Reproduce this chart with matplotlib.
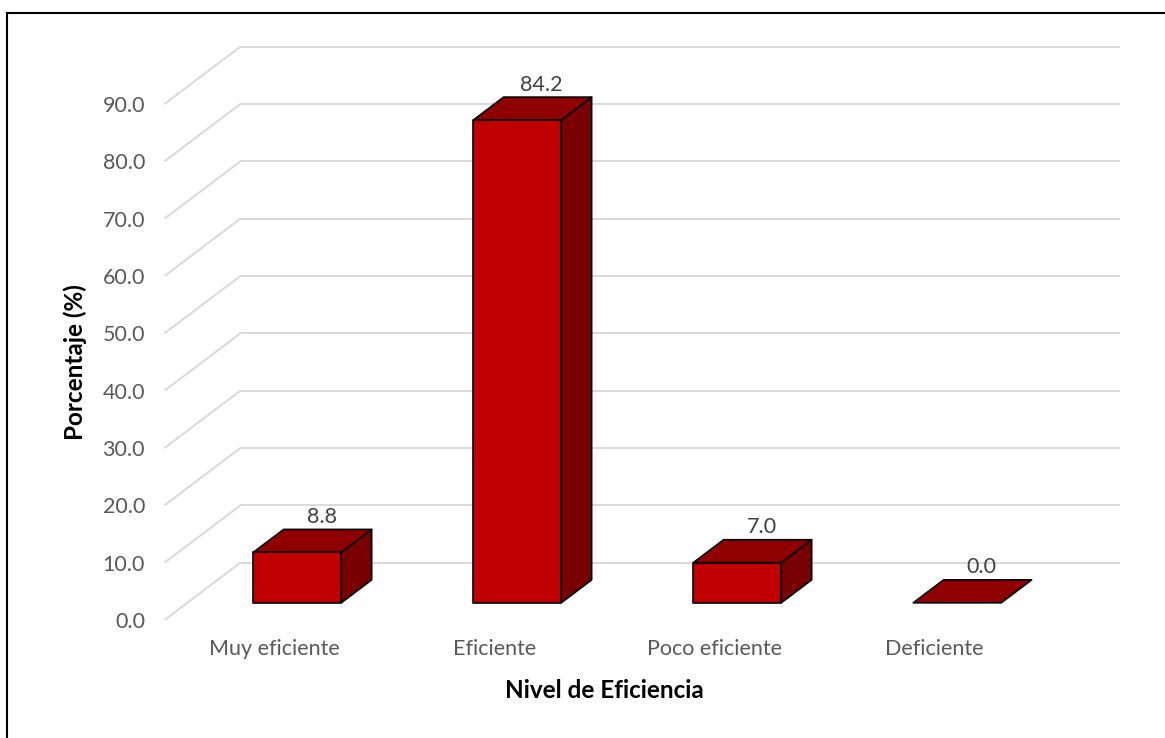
import matplotlib
matplotlib.use("Agg")
import matplotlib.pyplot as plt
from matplotlib.patches import Polygon, Rectangle

plt.rcParams['font.family'] = ['Lato', 'DejaVu Sans']

# Data
categories = ["Muy eficiente", "Eficiente", "Poco eficiente", "Deficiente"]
values = [8.8, 84.2, 7.0, 0.0]
y_ticks = [0, 10, 20, 30, 40, 50, 60, 70, 80, 90]
y_tick_labels = [f"{t:.1f}" for t in y_ticks]
x_title = "Nivel de Eficiencia"
y_title = "Porcentaje (%)"

# Styling
FRONT = "#C00000"
TOP = "#8F0000"
SIDE = "#780000"
GRID = "#D9D9D9"
TEXT = "#595959"
LABEL_FS = 15.5
TITLE_FS = 17.5

W, H = 1165, 738
fig = plt.figure(figsize=(W / 100, H / 100), dpi=100)

# axes = front floor plane of the 3D box
ax_left, ax_right = 164.5, 1044.5
ax_bottom, ax_top = 620, 104
ax = fig.add_axes([ax_left / W, 1 - ax_bottom / H,
                   (ax_right - ax_left) / W, (ax_bottom - ax_top) / H])
n = len(categories)
ax.set_xlim(-0.5, n - 0.5)
ax.set_ylim(0, 90)
for s in ax.spines.values():
    s.set_visible(False)

# oblique depth offset (data units)
ddx, ddy = 0.345, 10.0
bar_w = 0.4
z_front, z_back = 0.3, 0.7

# back wall gridlines + floor-side diagonals
for t in y_ticks:
    ax.plot([-0.5 + ddx, n - 0.5 + ddx], [t + ddy, t + ddy], color=GRID,
            lw=1.4, clip_on=False, zorder=1, solid_capstyle='butt')
    ax.plot([-0.5, -0.5 + ddx], [t, t + ddy], color=GRID,
            lw=1.4, clip_on=False, zorder=1, solid_capstyle='butt')

# 3D bars
ec = dict(edgecolor="black", linewidth=1.2, joinstyle='round', clip_on=False, zorder=3)
for i, v in enumerate(values):
    x0 = i - bar_w / 2
    x1 = i + bar_w / 2
    fx, fy = z_front * ddx, z_front * ddy
    bx, by = z_back * ddx, z_back * ddy
    # side face
    if v > 0:
        ax.add_patch(Polygon([(x1 + fx, fy), (x1 + bx, by), (x1 + bx, v + by),
                              (x1 + fx, v + fy)], closed=True, facecolor=SIDE, **ec))
    # top face
    ax.add_patch(Polygon([(x0 + fx, v + fy), (x1 + fx, v + fy), (x1 + bx, v + by),
                          (x0 + bx, v + by)], closed=True, facecolor=TOP, **ec))
    # front face
    if v > 0:
        ax.add_patch(Polygon([(x0 + fx, fy), (x1 + fx, fy), (x1 + fx, v + fy),
                              (x0 + fx, v + fy)], closed=True, facecolor=FRONT, **ec))
    # value label
    ax.annotate(f"{v:.1f}", xy=(i + 0.62 * ddx, v + by), xytext=(0, 9),
                textcoords="offset points", ha="center", va="center",
                fontsize=LABEL_FS, color="#404040", annotation_clip=False, zorder=4)

# ticks
ax.set_yticks(y_ticks)
ax.set_yticklabels(y_tick_labels)
ax.set_xticks(range(n))
ax.set_xticklabels(categories)
ax.tick_params(axis='y', length=0, pad=14, labelsize=LABEL_FS, labelcolor=TEXT)
ax.tick_params(axis='x', length=0, pad=14, labelsize=LABEL_FS, labelcolor=TEXT)

# axis titles
fig.text(604 / W, 1 - 690 / H, x_title, ha="center", va="center",
         fontsize=TITLE_FS, fontweight="bold", color="black")
fig.text(75 / W, 1 - 362 / H, y_title, ha="center", va="center", rotation=90,
         fontsize=TITLE_FS, fontweight="bold", color="black")

# chart frame
fig.add_artist(Rectangle((7 / W, -0.1), 1.2, (1 - 13 / H) + 0.1,
                         transform=fig.transFigure, fill=False,
                         edgecolor="black", linewidth=1.5))

fig.savefig("out.png", dpi=100, facecolor="white")
